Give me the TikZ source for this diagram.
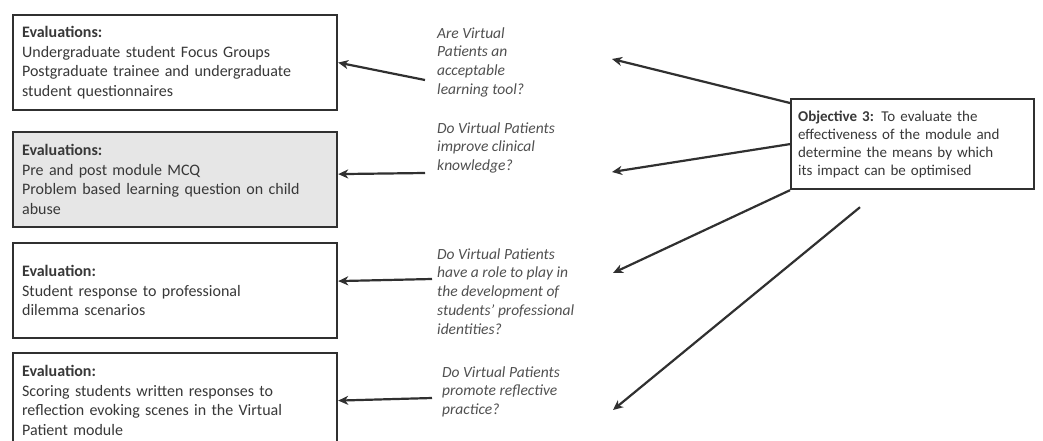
\documentclass[tikz,border=0pt]{standalone}
\usepackage{fontspec}
\setmainfont{Carlito}
\usetikzlibrary{arrows.meta,calc}
\definecolor{txt}{HTML}{383838}
\definecolor{qtxt}{HTML}{505050}
\definecolor{ln}{HTML}{303030}
\definecolor{fillg}{HTML}{E6E6E6}
\begin{document}
\begin{tikzpicture}[x=1pt,y=-1pt,
  evbox/.style={draw=ln, line width=2.2pt, rectangle, anchor=north west,
    minimum width=324pt, minimum height=95pt, text width=306pt, inner xsep=8pt,
    align=left, font=\fontsize{16}{19.5}\selectfont, text=txt},
  qtext/.style={anchor=base west, align=left, inner sep=0pt,
    font=\fontsize{15.5}{18.8}\selectfont\itshape, text=qtxt},
  objbox/.style={draw=ln, line width=2.2pt, rectangle, anchor=north west,
    minimum width=243pt, minimum height=90pt, text width=229pt, inner xsep=7pt,
    align=left, font=\fontsize{15}{18}\selectfont, text=txt},
  conn/.style={draw=ln, line width=2.2pt, -{Stealth[length=10pt,width=9pt,inset=3pt]}}]
\useasboundingbox (0,0) rectangle (1043,441);
\clip (0,0) rectangle (1043,441);
\fill[white] (0,0) rectangle (1043,441);

% evaluation boxes
\node[evbox] (b1) at (12,14) {\textbf{Evaluations:}\\Undergraduate student Focus Groups\\Postgraduate trainee and undergraduate\\student questionnaires};
\node[evbox, fill=fillg] (b2) at (12,131) {\textbf{Evaluations:}\\Pre and post module MCQ\\Problem based learning question on child\\abuse};
\node[evbox] (b3) at (12,242) {\textbf{Evaluation:}\\Student response to professional\\dilemma scenarios};
\node[evbox] (b4) at (12,352) {\textbf{Evaluation:}\\Scoring students written responses to\\reflection evoking scenes in the Virtual\\Patient module};

% questions (base anchor = baseline of last line)
\node[qtext] (q1) at (437,94.4) {Are Virtual\\Patients an\\acceptable\\learning tool?};
\node[qtext] (q2) at (437,170.6) {Do Virtual Patients\\improve clinical\\knowledge?};
\node[qtext] (q3) at (437,334.2) {Do Virtual Patients\\have a role to play in\\the development of\\students’ professional\\identities?};
\node[qtext] (q4) at (442,414.6) {Do Virtual Patients\\promote reflective\\practice?};

% objective
\node[objbox] (obj) at (790,98) {\textbf{Objective 3:} To evaluate the\\effectiveness of the module and\\determine the means by which\\its impact can be optimised};

% arrows questions -> boxes
\draw[conn] ($(q1.base west)+(-12,-14.4)$) -- (b1.east);
\draw[conn] ($(q2.base west)+(-12,2.4)$) -- ($(b2.east)+(0,-5.5)$);
\draw[conn] ($(q3.base west)+(-5,-55.2)$) -- ($(b3.east)+(0,-9.5)$);
\draw[conn] ($(q4.base west)+(-10,-16.6)$) -- (b4.east);

% arrows objective -> questions
\draw[conn] ($(obj.north west)+(0,5)$) -- ($(q1.base west)+(175,-35.4)$);
\draw[conn] (obj.west) -- ($(q2.base west)+(175,1.4)$);
\draw[conn] (obj.south west) -- ($(q3.base west)+(176,-61.2)$);
\draw[conn] ($(obj.south west)+(70,17)$) -- ($(q4.base west)+(171,-4.6)$);
\end{tikzpicture}
\end{document}
